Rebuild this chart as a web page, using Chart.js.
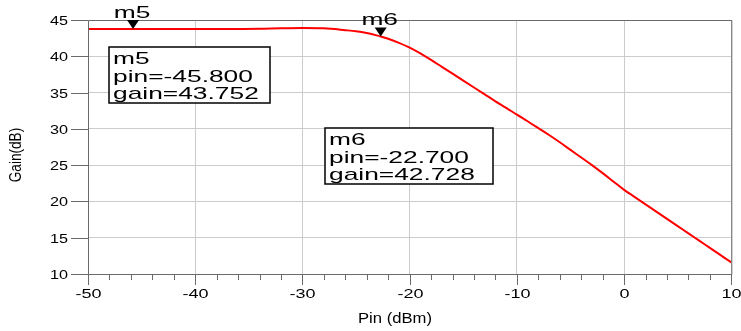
<!DOCTYPE html>
<html>
<head>
<meta charset="utf-8">
<script src="https://cdn.jsdelivr.net/npm/chart.js@4.4.1/dist/chart.umd.min.js"></script>
<style>
  html, body { margin: 0; padding: 0; background: #ffffff; }
  #c { display: block; }
</style>
</head>
<body>
<canvas id="c" width="741" height="331"></canvas>
<script>
// ---- data ----
const pin  = [-50, -48, -46, -45.8, -44, -42, -40, -38, -36, -34, -32, -30, -28, -26, -25, -24, -23, -22.7, -22, -21, -20, -19, -18, -17, -16, -15, -14, -13, -12, -11, -10, -9, -8, -7, -6, -5, -4, -3, -2, -1, 0, 1, 2, 3, 4, 5, 6, 7, 8, 9, 10];
const gain = [43.75, 43.75, 43.75, 43.752, 43.75, 43.75, 43.75, 43.75, 43.76, 43.78, 43.86, 43.9, 43.85, 43.6, 43.45, 43.2, 42.85, 42.728, 42.42, 41.85, 41.2, 40.4, 39.5, 38.55, 37.6, 36.65, 35.7, 34.75, 33.8, 32.9, 31.95, 31.05, 30.1, 29.15, 28.15, 27.1, 26.05, 25.0, 23.9, 22.75, 21.6, 20.6, 19.6, 18.6, 17.6, 16.6, 15.6, 14.6, 13.6, 12.6, 11.6];

const markerNames = ['m5', 'm6'];
const markerPin   = [-45.8, -22.7];
const markerGain  = [43.752, 42.728];

const xTickValues = [-50, -40, -30, -20, -10, 0, 10];
const yTickValues = [10, 15, 20, 25, 30, 35, 40, 45];

const xTitle = 'Pin (dBm)';
const yTitle = 'Gain(dB)';

// ---- drawing helpers ----
const FONT = '"Liberation Sans", Arial, Helvetica, sans-serif';
function stretchText(ctx, text, x, y, align, sx, size) {
  ctx.save();
  ctx.font = size + 'px ' + FONT;
  ctx.textAlign = align;
  ctx.textBaseline = 'alphabetic';
  ctx.translate(x, y);
  ctx.scale(sx, 1);
  ctx.fillText(text, 0, 0);
  ctx.restore();
}

const boxes = [
  { left: 109, top: 47, w: 161, h: 56 },
  { left: 325, top: 128, w: 168, h: 56 }
];

const decor = {
  id: 'decor',
  afterDraw(chart) {
    const ctx = chart.ctx;
    const ca = chart.chartArea;
    const xs = chart.scales.x;
    const ys = chart.scales.y;
    ctx.save();
    // frame
    ctx.strokeStyle = '#6a6a6a';
    ctx.lineWidth = 1;
    ctx.beginPath();
    ctx.moveTo(ca.left + 0.5, ca.bottom + 0.5);
    ctx.lineTo(ca.left + 0.5, ca.top + 0.5);
    ctx.lineTo(ca.right + 0.5, ca.top + 0.5);
    ctx.lineTo(ca.right + 0.5, ca.bottom + 0.5);
    ctx.lineTo(ca.left + 0.5, ca.bottom + 0.5);
    ctx.stroke();

    // y ticks + labels
    ctx.fillStyle = '#000';
    ys.ticks.forEach((t, i) => {
      const y = Math.round(ys.getPixelForTick(i)) + 0.5;
      ctx.beginPath();
      ctx.moveTo(ca.left - 17, y);
      ctx.lineTo(ca.left, y);
      ctx.stroke();
      stretchText(ctx, String(t.value), ca.left - 20, y + 4.3, 'right', 1.35, 12);
    });
    // x major ticks + labels
    xs.ticks.forEach((t, i) => {
      const x = Math.round(xs.getPixelForTick(i)) + 0.5;
      ctx.beginPath();
      ctx.moveTo(x, ca.bottom);
      ctx.lineTo(x, ca.bottom + 11);
      ctx.stroke();
      stretchText(ctx, String(t.value), x, ca.bottom + 24, 'center', 1.5, 12);
    });
    // x minor ticks every 2
    for (let v = xs.min; v <= xs.max; v += 2) {
      if (v % 10 === 0) continue;
      const x = Math.round(xs.getPixelForValue(v)) + 0.5;
      ctx.beginPath();
      ctx.moveTo(x, ca.bottom);
      ctx.lineTo(x, ca.bottom + 6);
      ctx.stroke();
    }

    // axis titles
    stretchText(ctx, xTitle, 395, 323, 'center', 1.11, 15);
    ctx.save();
    ctx.translate(21, 155);
    ctx.rotate(-Math.PI / 2);
    stretchText(ctx, yTitle, 0, 0, 'center', 0.85, 16);
    ctx.restore();

    // markers
    for (let i = 0; i < markerNames.length; i++) {
      const x = xs.getPixelForValue(markerPin[i]);
      const y = ys.getPixelForValue(markerGain[i]);
      ctx.fillStyle = '#000';
      ctx.beginPath();
      ctx.moveTo(x, y);
      ctx.lineTo(x - 6, y - 9);
      ctx.lineTo(x + 6, y - 9);
      ctx.closePath();
      ctx.fill();
      stretchText(ctx, markerNames[i], x - 1, y - 11.5, 'center', 1.55, 17);
    }

    // readout boxes
    for (let i = 0; i < markerNames.length; i++) {
      const b = boxes[i];
      ctx.fillStyle = '#fff';
      ctx.fillRect(b.left, b.top, b.w, b.h);
      ctx.strokeStyle = '#000';
      ctx.lineWidth = 1.5;
      ctx.strokeRect(b.left, b.top, b.w, b.h);
      ctx.fillStyle = '#000';
      const lines = [
        markerNames[i],
        'pin=' + markerPin[i].toFixed(3),
        'gain=' + markerGain[i].toFixed(3)
      ];
      stretchText(ctx, lines[0], b.left + 4, b.top + 16.5, 'left', 1.55, 17);
      stretchText(ctx, lines[1], b.left + 4, b.top + 34.5, 'left', 1.55, 17);
      stretchText(ctx, lines[2], b.left + 4, b.top + 52, 'left', 1.55, 17);
    }
    ctx.restore();
  }
};

new Chart(document.getElementById('c'), {
  type: 'line',
  data: {
    datasets: [{
      data: pin.map((p, i) => ({ x: p, y: gain[i] })),
      borderColor: '#ff0000',
      borderWidth: 2,
      pointRadius: 0,
      cubicInterpolationMode: 'monotone',
      fill: false
    }]
  },
  options: {
    responsive: false,
    animation: false,
    devicePixelRatio: 1,
    layout: { autoPadding: false, padding: { left: 0, top: 20, right: 7, bottom: 0 } },
    plugins: { legend: { display: false }, tooltip: { enabled: false } },
    scales: {
      x: {
        type: 'linear',
        min: -50, max: 10,
        afterBuildTicks: s => { s.ticks = xTickValues.map(v => ({ value: v })); },
        ticks: { color: 'rgba(0,0,0,0)' },
        grid: { color: '#cccccc', lineWidth: 1, drawTicks: false },
        border: { display: false },
        afterFit: s => { s.height = 57; }
      },
      y: {
        type: 'linear',
        min: 10, max: 45,
        afterBuildTicks: s => { s.ticks = yTickValues.map(v => ({ value: v })); },
        ticks: { color: 'rgba(0,0,0,0)' },
        grid: { color: '#cccccc', lineWidth: 1, drawTicks: false },
        border: { display: false },
        afterFit: s => { s.width = 88; }
      }
    }
  },
  plugins: [decor]
});
</script>
</body>
</html>
